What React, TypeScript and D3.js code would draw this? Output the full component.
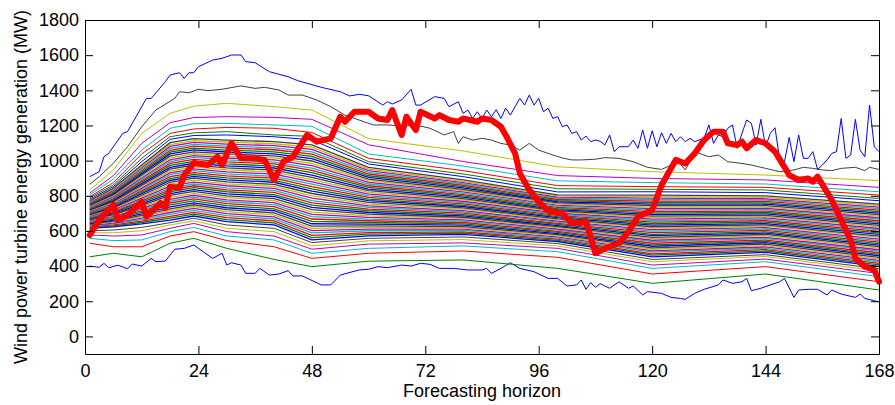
import { useEffect, useRef } from "react";
import * as d3 from "d3";

// old MATLAB line order: b g r c m y k
const lineColors = ["#0000ff", "#008000", "#ff0000", "#00bfbf", "#bf00bf", "#bfbf00", "#404040"];

const xTicks = [0, 24, 48, 72, 96, 120, 144, 168];
const yTicks = [0, 200, 400, 600, 800, 1000, 1200, 1400, 1600, 1800];

// lowest scenario [hour, MW]
const lowest: [number, number][] = [
  [1, 400], [3, 393], [4, 416], [5, 391], [7, 405], [9, 385], [10, 412], [12, 400], [14, 444], [15, 425],
  [17, 429], [19, 496], [21, 501], [23, 520], [25, 482], [27, 444], [29, 473], [30, 406], [31, 419], [33, 406],
  [34, 359], [36, 359], [37, 387], [39, 349], [41, 355], [43, 374], [44, 344], [46, 344], [50, 293], [52, 293],
  [54, 349], [58, 378], [60, 382], [62, 397], [64, 391], [67, 406], [69, 400], [71, 416], [73, 410], [75, 387],
  [78, 387], [81, 378], [84, 378], [85, 387], [86, 359], [88, 387], [90, 419], [92, 387], [95, 368], [98, 330],
  [100, 330], [102, 287], [104, 293], [105, 321], [106, 268], [107, 306], [108, 279], [109, 300], [111, 274], [113, 311],
  [115, 274], [116, 287], [118, 236], [119, 255], [122, 245], [124, 222], [126, 216], [127, 211], [129, 245], [131, 268],
  [134, 293], [135, 321], [137, 302], [139, 311], [140, 330], [141, 260], [143, 274], [145, 293], [147, 311], [148, 330],
  [150, 222], [151, 264], [153, 268], [155, 268], [157, 236], [158, 264], [160, 241], [163, 222], [164, 241], [165, 216],
  [167, 203], [168, 197],
];

// second highest scenario (dark grey)
const secondHighest: [number, number][] = [
  [1, 865], [3, 909], [6, 985], [9, 1079], [12, 1193], [15, 1288], [19, 1354], [20, 1392], [22, 1386], [24, 1406],
  [26, 1398], [29, 1406], [33, 1425], [36, 1411], [38, 1417], [41, 1402], [43, 1373], [46, 1373], [49, 1345], [52, 1307],
  [55, 1259], [58, 1231], [61, 1203], [64, 1203], [67, 1197], [70, 1203], [73, 1184], [76, 1146], [78, 1165], [79, 1098],
  [80, 1136], [82, 1117], [84, 1127], [86, 1117], [88, 1098], [90, 1089], [92, 1060], [94, 1098], [96, 1060], [98, 1041],
  [101, 1015], [103, 1004], [105, 1004], [108, 1008], [110, 1017], [113, 1013], [116, 994], [119, 962], [122, 950], [124, 975],
  [125, 1013], [127, 947], [128, 994], [129, 1051], [132, 1022], [134, 1032], [136, 994], [139, 984], [141, 975], [144, 956],
  [147, 937], [150, 947], [152, 962], [154, 956], [156, 947], [158, 943], [160, 956], [163, 962], [165, 943], [166, 962],
  [168, 950],
];

// highest scenario (blue)
const highest: [number, number][] = [
  [1, 909], [3, 937], [4, 1022], [5, 1041], [8, 1155], [9, 1165], [13, 1354], [14, 1354], [17, 1449], [18, 1487],
  [20, 1500], [21, 1468], [22, 1500], [23, 1500], [24, 1534], [27, 1572], [29, 1582], [31, 1601], [33, 1601], [34, 1563],
  [36, 1557], [39, 1506], [43, 1477], [45, 1455], [50, 1417], [54, 1392], [56, 1368], [58, 1377], [60, 1369], [63, 1316],
  [64, 1335], [65, 1322], [67, 1345], [69, 1406], [70, 1316], [71, 1316], [74, 1364], [76, 1354], [77, 1307], [79, 1335],
  [80, 1269], [81, 1288], [82, 1240], [83, 1278], [84, 1240], [85, 1288], [86, 1250], [87, 1290], [88, 1240], [89, 1298],
  [90, 1259], [91, 1307], [92, 1354], [93, 1316], [94, 1373], [95, 1316], [96, 1354], [97, 1278], [98, 1298], [99, 1240],
  [100, 1250], [101, 1193], [102, 1203], [103, 1155], [104, 1165], [105, 1117], [106, 1140], [107, 1108], [108, 1117], [109, 1110],
  [110, 1089], [111, 1146], [112, 1051], [113, 1079], [115, 1079], [116, 1117], [117, 1070], [118, 1174], [119, 1070], [120, 1170],
  [121, 1079], [122, 1159], [123, 1098], [124, 1155], [125, 1108], [126, 1136], [127, 1108], [128, 1127], [129, 1108], [131, 1127],
  [132, 1203], [133, 1098], [134, 1146], [135, 1136], [136, 1184], [137, 1203], [138, 1070], [139, 1155], [140, 1231], [141, 1212],
  [142, 1089], [143, 1235], [144, 1079], [145, 1155], [146, 1187], [147, 1004], [148, 994], [149, 1132], [150, 994], [151, 1146],
  [152, 1013], [153, 1013], [154, 1051], [155, 950], [156, 975], [157, 1004], [158, 1041], [159, 1051], [160, 1240], [161, 1013],
  [162, 1032], [163, 1235], [164, 1060], [165, 1022], [166, 1316], [167, 1079], [168, 1051],
];

// actual generation (thick red)
const actual: [number, number][] = [
  [1, 577], [3, 662], [6, 748], [7, 662], [9, 690], [12, 766], [13, 681], [16, 759], [17, 731], [18, 852],
  [20, 845], [21, 918], [23, 986], [26, 975], [28, 1022], [29, 975], [31, 1099], [33, 1013], [36, 1013], [38, 1004],
  [40, 890], [42, 994], [44, 1022], [47, 1146], [49, 1108], [52, 1127], [54, 1250], [55, 1221], [57, 1278], [60, 1278],
  [62, 1240], [64, 1231], [65, 1288], [67, 1146], [68, 1250], [70, 1174], [71, 1278], [74, 1240], [75, 1259], [77, 1231],
  [79, 1221], [80, 1240], [83, 1221], [84, 1240], [86, 1231], [88, 1193], [89, 1146], [91, 1041], [92, 928], [94, 833],
  [96, 766], [98, 714], [101, 700], [103, 643], [106, 653], [108, 473], [110, 501], [113, 530], [115, 596], [117, 681],
  [120, 719], [122, 861], [125, 1004], [127, 984], [129, 1041], [131, 1117], [133, 1165], [135, 1165], [136, 1098], [138, 1089],
  [139, 1108], [140, 1070], [142, 1117], [144, 1098], [146, 1051], [149, 918], [151, 890], [153, 899], [154, 880], [155, 909],
  [158, 776], [160, 662], [162, 549], [163, 444], [165, 397], [167, 378], [168, 311],
];

// the other scenarios, read at a few horizons (bottom to top, 54 each)
const anchorHours = [1, 6, 12, 18, 23, 30, 40, 48, 60, 80, 100, 120, 144, 168];
const q1 = [453, 530, 558, 577, 590, 601, 615, 619, 623, 626, 630, 634, 638, 642, 646, 649, 653, 657, 661, 665, 669, 672, 676, 680, 684, 688, 692, 695, 699, 703, 707, 711, 715, 718, 722, 726, 730, 734, 738, 741, 745, 749, 753, 757, 761, 764, 768, 772, 780, 788, 795, 805, 815, 833];
const q6 = [473, 510, 545, 571, 590, 605, 624, 629, 635, 640, 645, 651, 656, 661, 667, 672, 677, 683, 688, 693, 699, 704, 709, 715, 720, 725, 731, 736, 742, 747, 752, 758, 763, 768, 774, 779, 784, 790, 795, 800, 806, 811, 816, 822, 827, 832, 838, 843, 852, 862, 875, 895, 915, 947];
const q12 = [453, 510, 549, 577, 601, 620, 640, 648, 656, 665, 673, 681, 689, 697, 705, 714, 722, 730, 738, 746, 754, 763, 771, 779, 787, 795, 803, 812, 820, 828, 836, 844, 852, 861, 869, 877, 885, 893, 901, 910, 918, 926, 934, 942, 950, 959, 967, 975, 994, 1013, 1038, 1060, 1098, 1155];
const q18 = [530, 571, 596, 615, 634, 647, 662, 673, 683, 694, 705, 716, 726, 737, 748, 759, 769, 780, 791, 802, 812, 823, 834, 844, 855, 866, 877, 887, 898, 909, 920, 930, 941, 952, 962, 973, 984, 995, 1005, 1016, 1027, 1038, 1048, 1059, 1070, 1081, 1091, 1102, 1121, 1136, 1155, 1184, 1216, 1269];
const q23 = [558, 596, 620, 643, 658, 672, 685, 696, 706, 717, 728, 739, 749, 760, 771, 782, 792, 803, 814, 825, 835, 846, 857, 867, 878, 889, 900, 910, 921, 932, 943, 953, 964, 975, 985, 996, 1007, 1018, 1028, 1039, 1050, 1061, 1071, 1082, 1093, 1104, 1114, 1125, 1143, 1158, 1180, 1210, 1245, 1310];
const q30 = [501, 545, 571, 596, 615, 634, 653, 664, 676, 687, 698, 710, 721, 732, 744, 755, 766, 777, 789, 800, 811, 823, 834, 845, 857, 868, 879, 891, 902, 913, 925, 936, 947, 959, 970, 981, 993, 1004, 1015, 1026, 1038, 1049, 1060, 1072, 1083, 1094, 1106, 1117, 1146, 1165, 1189, 1212, 1250, 1326];
const q40 = [438, 510, 549, 571, 596, 615, 634, 646, 657, 669, 680, 692, 703, 715, 726, 738, 750, 761, 773, 784, 796, 807, 819, 831, 842, 854, 865, 877, 888, 900, 911, 923, 935, 946, 958, 969, 981, 992, 1004, 1016, 1027, 1039, 1050, 1062, 1073, 1085, 1096, 1108, 1136, 1146, 1184, 1203, 1246, 1307];
const q48 = [397, 444, 473, 496, 515, 534, 549, 562, 575, 589, 602, 615, 628, 641, 655, 668, 681, 694, 707, 721, 734, 747, 760, 773, 787, 800, 813, 826, 839, 852, 866, 879, 892, 905, 918, 932, 945, 958, 971, 984, 998, 1011, 1024, 1037, 1050, 1064, 1077, 1090, 1118, 1138, 1160, 1195, 1235, 1288];
const q60 = [428, 473, 501, 525, 544, 558, 572, 582, 591, 601, 610, 620, 629, 639, 648, 658, 667, 677, 686, 696, 705, 715, 724, 734, 743, 753, 762, 772, 781, 791, 800, 810, 819, 829, 838, 848, 857, 867, 876, 886, 895, 905, 914, 924, 933, 943, 952, 962, 981, 994, 1013, 1038, 1090, 1125];
const q80 = [435, 486, 515, 532, 551, 566, 580, 588, 595, 603, 610, 618, 625, 633, 640, 648, 656, 663, 671, 678, 686, 693, 701, 709, 716, 724, 731, 739, 746, 754, 761, 769, 777, 784, 792, 799, 807, 814, 822, 830, 837, 845, 852, 860, 867, 875, 882, 890, 909, 924, 943, 969, 995, 1055];
const q100 = [387, 450, 482, 501, 515, 528, 540, 546, 553, 559, 566, 572, 579, 585, 592, 598, 605, 611, 618, 624, 630, 637, 643, 650, 656, 663, 669, 676, 682, 689, 695, 702, 708, 715, 721, 727, 734, 740, 747, 753, 760, 766, 773, 779, 786, 792, 799, 805, 822, 840, 858, 885, 915, 965];
const q120 = [302, 355, 387, 406, 425, 438, 453, 462, 470, 479, 487, 496, 504, 513, 521, 530, 539, 547, 556, 564, 573, 581, 590, 599, 607, 616, 624, 633, 641, 650, 658, 667, 676, 684, 693, 701, 710, 718, 727, 736, 744, 753, 761, 770, 778, 787, 795, 804, 823, 837, 852, 875, 899, 937];
const q144 = [355, 397, 425, 440, 455, 465, 478, 486, 494, 501, 509, 517, 525, 533, 541, 548, 556, 564, 572, 580, 588, 595, 603, 611, 619, 627, 635, 642, 650, 658, 666, 674, 682, 689, 697, 705, 713, 721, 729, 736, 744, 752, 760, 768, 775, 783, 791, 799, 818, 833, 848, 867, 890, 918];
const q168 = [264, 311, 340, 358, 372, 385, 398, 407, 415, 424, 433, 441, 450, 459, 467, 476, 485, 493, 502, 511, 519, 528, 537, 545, 554, 563, 571, 580, 589, 597, 606, 614, 623, 632, 640, 649, 658, 667, 675, 684, 693, 701, 710, 718, 727, 736, 744, 753, 772, 785, 804, 823, 848, 886];
const anchorLevels = [q1, q6, q12, q18, q23, q30, q40, q48, q60, q80, q100, q120, q144, q168];

const width = 895;
const height = 405;
const margin = { top: 20, right: 16, bottom: 51, left: 85 };
const font = "'Liberation Sans', Arial, Helvetica, sans-serif";

export default function App() {
  const ref = useRef<SVGSVGElement>(null);

  useEffect(() => {
    draw();
  });

  function draw() {
    const svg = d3.select(ref.current);
    svg.selectAll("*").remove();

    const plotW = width - margin.left - margin.right;
    const plotH = height - margin.top - margin.bottom;

    const x = d3.scaleLinear().domain([0, 168]).range([0, plotW]);
    const y = d3.scaleLinear().domain([-100, 1800]).range([plotH, 0]);

    const plot = svg
      .append("g")
      .attr("transform", "translate(" + margin.left + "," + margin.top + ")");

    const scenarios: [number, number][][] = [
      lowest,
      ...d3.range(anchorLevels[0].length).map((j) =>
        anchorHours.map((h, k) => [h, anchorLevels[k][j]] as [number, number])
      ),
      secondHighest,
      highest,
    ];

    const line = d3
      .line<[number, number]>()
      .x((d) => x(d[0]))
      .y((d) => y(d[1]));

    plot
      .append("g")
      .selectAll("path")
      .data(scenarios)
      .enter()
      .append("path")
      .attr("d", (d) => line(d))
      .attr("fill", "none")
      .attr("stroke", (_, i) => lineColors[i % lineColors.length])
      .attr("stroke-width", (_, i) => (i > 6 && i < 49 ? 1.3 : 1));

    plot
      .append("path")
      .attr("d", line(actual))
      .attr("fill", "none")
      .attr("stroke", "#ff0000")
      .attr("stroke-width", 6)
      .attr("stroke-linejoin", "round")
      .attr("stroke-linecap", "round");

    // box with inward ticks on all four sides
    const bottomAxis = plot
      .append("g")
      .attr("transform", "translate(0," + plotH + ")")
      .call(d3.axisBottom(x).tickValues(xTicks).tickSizeInner(-8).tickSizeOuter(0).tickPadding(10));
    const leftAxis = plot
      .append("g")
      .call(
        d3.axisLeft(y).tickValues(yTicks).tickFormat(d3.format("d")).tickSizeInner(-8).tickSizeOuter(0).tickPadding(6)
      );
    plot
      .append("g")
      .call(d3.axisTop(x).tickValues(xTicks).tickSizeInner(-8).tickSizeOuter(0).tickFormat(() => ""));
    plot
      .append("g")
      .attr("transform", "translate(" + plotW + ",0)")
      .call(d3.axisRight(y).tickValues(yTicks).tickSizeInner(-8).tickSizeOuter(0).tickFormat(() => ""));

    plot.selectAll(".domain").attr("stroke", "#000").attr("stroke-width", 1);
    plot.selectAll(".tick line").attr("stroke", "#000");
    [bottomAxis, leftAxis].forEach((a) =>
      a.selectAll("text").attr("font-family", font).attr("font-size", 18).attr("fill", "#000")
    );

    plot
      .append("text")
      .attr("x", plotW / 2)
      .attr("y", plotH + 43)
      .style("text-anchor", "middle")
      .attr("font-family", font)
      .attr("font-size", 18)
      .text("Forecasting horizon");

    plot
      .append("text")
      .attr("transform", "translate(-58," + plotH / 2 + ")rotate(-90)")
      .style("text-anchor", "middle")
      .attr("font-family", font)
      .attr("font-size", 18)
      .text("Wind power turbine energy generation (MW)");
  }

  return (
    <svg
      width={width}
      height={height}
      ref={ref}
      style={{ position: "absolute", left: 0, top: 0, background: "#fff" }}
    ></svg>
  );
}
